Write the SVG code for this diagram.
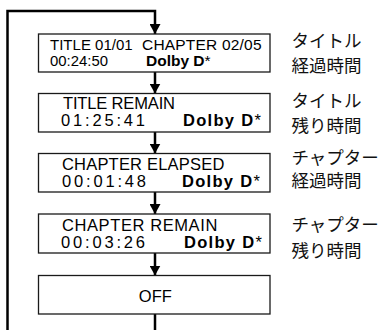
<svg xmlns="http://www.w3.org/2000/svg" width="382" height="330" viewBox="0 0 382 330">
<style>
.box{fill:#fff;stroke:#1a1a1a;stroke-width:1.3}
.t{font-family:"Liberation Sans",Arial,sans-serif;font-size:15.5px;fill:#000}
.l{font-size:16.5px}
.b{font-weight:bold}
.ast{font-weight:normal}
.jp{font-family:"Noto Sans CJK JP","Noto Sans",sans-serif;font-size:17.5px;fill:#111}
.conn{fill:none;stroke:#000;stroke-width:2.5}
</style>
<defs>
<marker id="ah" markerUnits="userSpaceOnUse" markerWidth="10" markerHeight="11" refX="10" refY="5.5" orient="auto">
<path d="M0,0 L10,5.5 L0,11 z" fill="#000"/>
</marker>
</defs>
<g id="connectors">
<path class="conn" d="M7.5,330 V11 H155 V34" marker-end="url(#ah)"/>
<path class="conn" d="M155,72 V93.5" marker-end="url(#ah)"/>
<path class="conn" d="M155,132 V153.5" marker-end="url(#ah)"/>
<path class="conn" d="M155,192 V214" marker-end="url(#ah)"/>
<path class="conn" d="M155,253 V275.5" marker-end="url(#ah)"/>
<path class="conn" d="M155,314 V330"/>
</g>
<g id="title-elapsed">
<rect class="box" x="38.5" y="34" width="231.5" height="38"/>
<text class="t" x="50" y="50.3" textLength="82.7" lengthAdjust="spacingAndGlyphs">TITLE 01/01</text>
<text class="t" x="142" y="50.3" textLength="119.5" lengthAdjust="spacing">CHAPTER 02/05</text>
<text class="t" x="50" y="66.3" textLength="58" lengthAdjust="spacingAndGlyphs">00:24:50</text>
<text class="t b" x="146" y="66.3">Dolby D<tspan class="ast">*</tspan></text>
</g>
<g id="title-remain">
<rect class="box" x="38.5" y="93.5" width="231.5" height="38.5"/>
<text class="t l" x="63" y="108.5" textLength="112" lengthAdjust="spacing">TITLE REMAIN</text>
<text class="t l" x="61" y="126" textLength="84" lengthAdjust="spacing">01:25:41</text>
<text class="t l b" x="183" y="126" letter-spacing="1.3">Dolby D<tspan class="ast" letter-spacing="0">*</tspan></text>
</g>
<g id="chapter-elapsed">
<rect class="box" x="38.5" y="153.5" width="231.5" height="38.5"/>
<text class="t l" x="62" y="170" textLength="162.3" lengthAdjust="spacing">CHAPTER ELAPSED</text>
<text class="t l" x="62" y="186.5" textLength="84" lengthAdjust="spacing">00:01:48</text>
<text class="t l b" x="182" y="186.5" letter-spacing="1.3">Dolby D<tspan class="ast" letter-spacing="0">*</tspan></text>
</g>
<g id="chapter-remain">
<rect class="box" x="38.5" y="214" width="231.5" height="39"/>
<text class="t l" x="62" y="231" textLength="155.3" lengthAdjust="spacing">CHAPTER REMAIN</text>
<text class="t l" x="61" y="248" textLength="84" lengthAdjust="spacing">00:03:26</text>
<text class="t l b" x="184" y="248" letter-spacing="1.3">Dolby D<tspan class="ast" letter-spacing="0">*</tspan></text>
</g>
<g id="off">
<rect class="box" x="38.5" y="275.5" width="231.5" height="38.5"/>
<text class="t l" x="155.3" y="301.7" text-anchor="middle">OFF</text>
</g>
<g id="labels">
<text class="jp" x="291.5" y="47.3">タイトル</text>
<text class="jp" x="291.5" y="72.4">経過時間</text>
<text class="jp" x="291.5" y="106.8">タイトル</text>
<text class="jp" x="291.5" y="131.8">残り時間</text>
<text class="jp" x="291.5" y="163.8">チャプター</text>
<text class="jp" x="291.5" y="186.8">経過時間</text>
<text class="jp" x="291.5" y="230.8">チャプター</text>
<text class="jp" x="291.5" y="256.5">残り時間</text>
</g>
</svg>
